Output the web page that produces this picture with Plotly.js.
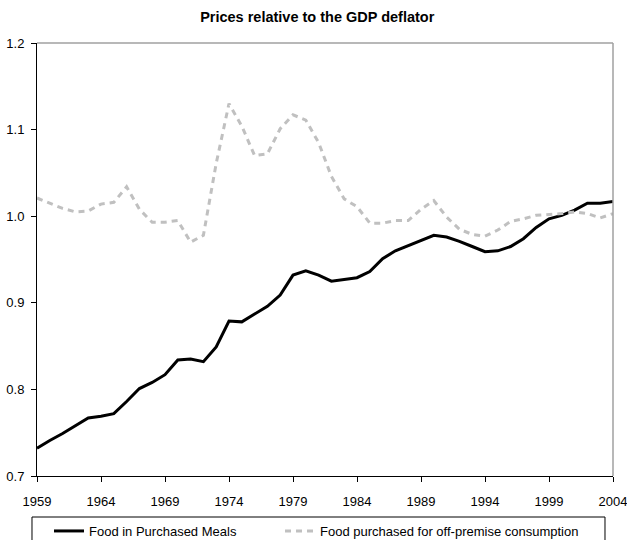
<!DOCTYPE html>
<html>
<head>
<meta charset="utf-8">
<script src="https://cdn.plot.ly/plotly-3.0.1.min.js"></script>
<style>html,body{margin:0;padding:0;background:#fff;}#chart{width:627px;height:540px;}</style>
</head>
<body>
<div id="chart"></div>
<script>
var years = [1959,1960,1961,1962,1963,1964,1965,1966,1967,1968,1969,1970,1971,1972,1973,1974,1975,1976,1977,1978,1979,1980,1981,1982,1983,1984,1985,1986,1987,1988,1989,1990,1991,1992,1993,1994,1995,1996,1997,1998,1999,2000,2001,2002,2003,2004];
var purchasedMeals = [0.732,0.741,0.749,0.758,0.767,0.769,0.772,0.786,0.801,0.808,0.817,0.834,0.835,0.832,0.849,0.879,0.878,0.887,0.896,0.909,0.932,0.937,0.932,0.925,0.927,0.929,0.936,0.951,0.960,0.966,0.972,0.978,0.976,0.971,0.965,0.959,0.960,0.965,0.974,0.987,0.997,1.001,1.007,1.015,1.015,1.017];
var offPremise = [1.021,1.015,1.009,1.005,1.006,1.014,1.016,1.034,1.008,0.993,0.993,0.995,0.970,0.978,1.061,1.130,1.104,1.070,1.072,1.101,1.117,1.111,1.085,1.046,1.020,1.011,0.992,0.992,0.995,0.995,1.008,1.018,0.999,0.985,0.979,0.977,0.984,0.994,0.997,1.001,1.002,1.003,1.005,1.003,0.998,1.003];
var seriesNames = ["Food in Purchased Meals", "Food purchased for off-premise consumption"];
var xTicks = [1959,1964,1969,1974,1979,1984,1989,1994,1999,2004];
var titleText = "Prices relative to the GDP deflator";

var FONT = '"Liberation Sans", Arial, sans-serif';

var traces = [
  {x: years, y: purchasedMeals, name: seriesNames[0], type: 'scatter', mode: 'lines',
   line: {color: '#000000', width: 3}, legend: 'legend'},
  {x: years, y: offPremise, name: seriesNames[1], type: 'scatter', mode: 'lines',
   line: {color: '#c0c0c0', width: 3, dash: '6px,5px'}, legend: 'legend2'}
];

var legendCommon = {orientation: 'h', xanchor: 'left', yanchor: 'middle', y: -0.127,
  bgcolor: 'rgba(0,0,0,0)', borderwidth: 0, font: {family: FONT, size: 13, color: '#000000'},
  itemwidth: 30};

var layout = {
  width: 627, height: 540,
  margin: {l: 37, r: 14, t: 43, b: 64, autoexpand: false},
  paper_bgcolor: '#ffffff', plot_bgcolor: '#ffffff',
  font: {family: FONT, size: 13, color: '#000000'},
  title: {text: '<b>' + titleText + '</b>', x: 0.506, xref: 'container', xanchor: 'center',
          y: 0.969, yref: 'container', yanchor: 'middle',
          font: {family: FONT, size: 14.5, color: '#000000'}},
  xaxis: {range: [1959, 2004], tickmode: 'array', tickvals: xTicks, ticktext: xTicks.map(String),
          showgrid: false, zeroline: false, showline: true, linecolor: '#000000', linewidth: 1,
          ticks: 'outside', ticklen: 5, tickcolor: '#000000', tickwidth: 1,
          ticklabelstandoff: 8,
          ticklabeloverflow: 'allow', automargin: false,
          tickfont: {family: FONT, size: 13}, fixedrange: true},
  yaxis: {range: [0.7, 1.2], dtick: 0.1, tick0: 0.7, tickformat: '.1f',
          showgrid: false, zeroline: false, showline: true, linecolor: '#000000', linewidth: 1,
          ticks: 'outside', ticklen: 5, tickcolor: '#000000', tickwidth: 1,
          ticklabelstandoff: 4,
          ticklabeloverflow: 'allow', automargin: false,
          tickfont: {family: FONT, size: 13}, fixedrange: true},
  showlegend: true,
  legend: Object.assign({}, legendCommon, {x: 0.0208}),
  legend2: Object.assign({}, legendCommon, {x: 0.4219}),
  shapes: [
    {type: 'line', xref: 'paper', yref: 'paper', x0: 0, x1: 1, y0: 1, y1: 1,
     line: {color: '#a0a0a0', width: 1.5}},
    {type: 'line', xref: 'paper', yref: 'paper', x0: 1, x1: 1, y0: 0, y1: 1,
     line: {color: '#a0a0a0', width: 1.5}},
    {type: 'rect', xref: 'paper', yref: 'paper', x0: -0.0087, x1: 0.9861, y0: -0.0947, y1: -0.17,
     line: {color: '#000000', width: 1}, fillcolor: 'rgba(0,0,0,0)'}
  ]
};

Plotly.newPlot('chart', traces, layout, {displayModeBar: false, staticPlot: true});
</script>
</body>
</html>
